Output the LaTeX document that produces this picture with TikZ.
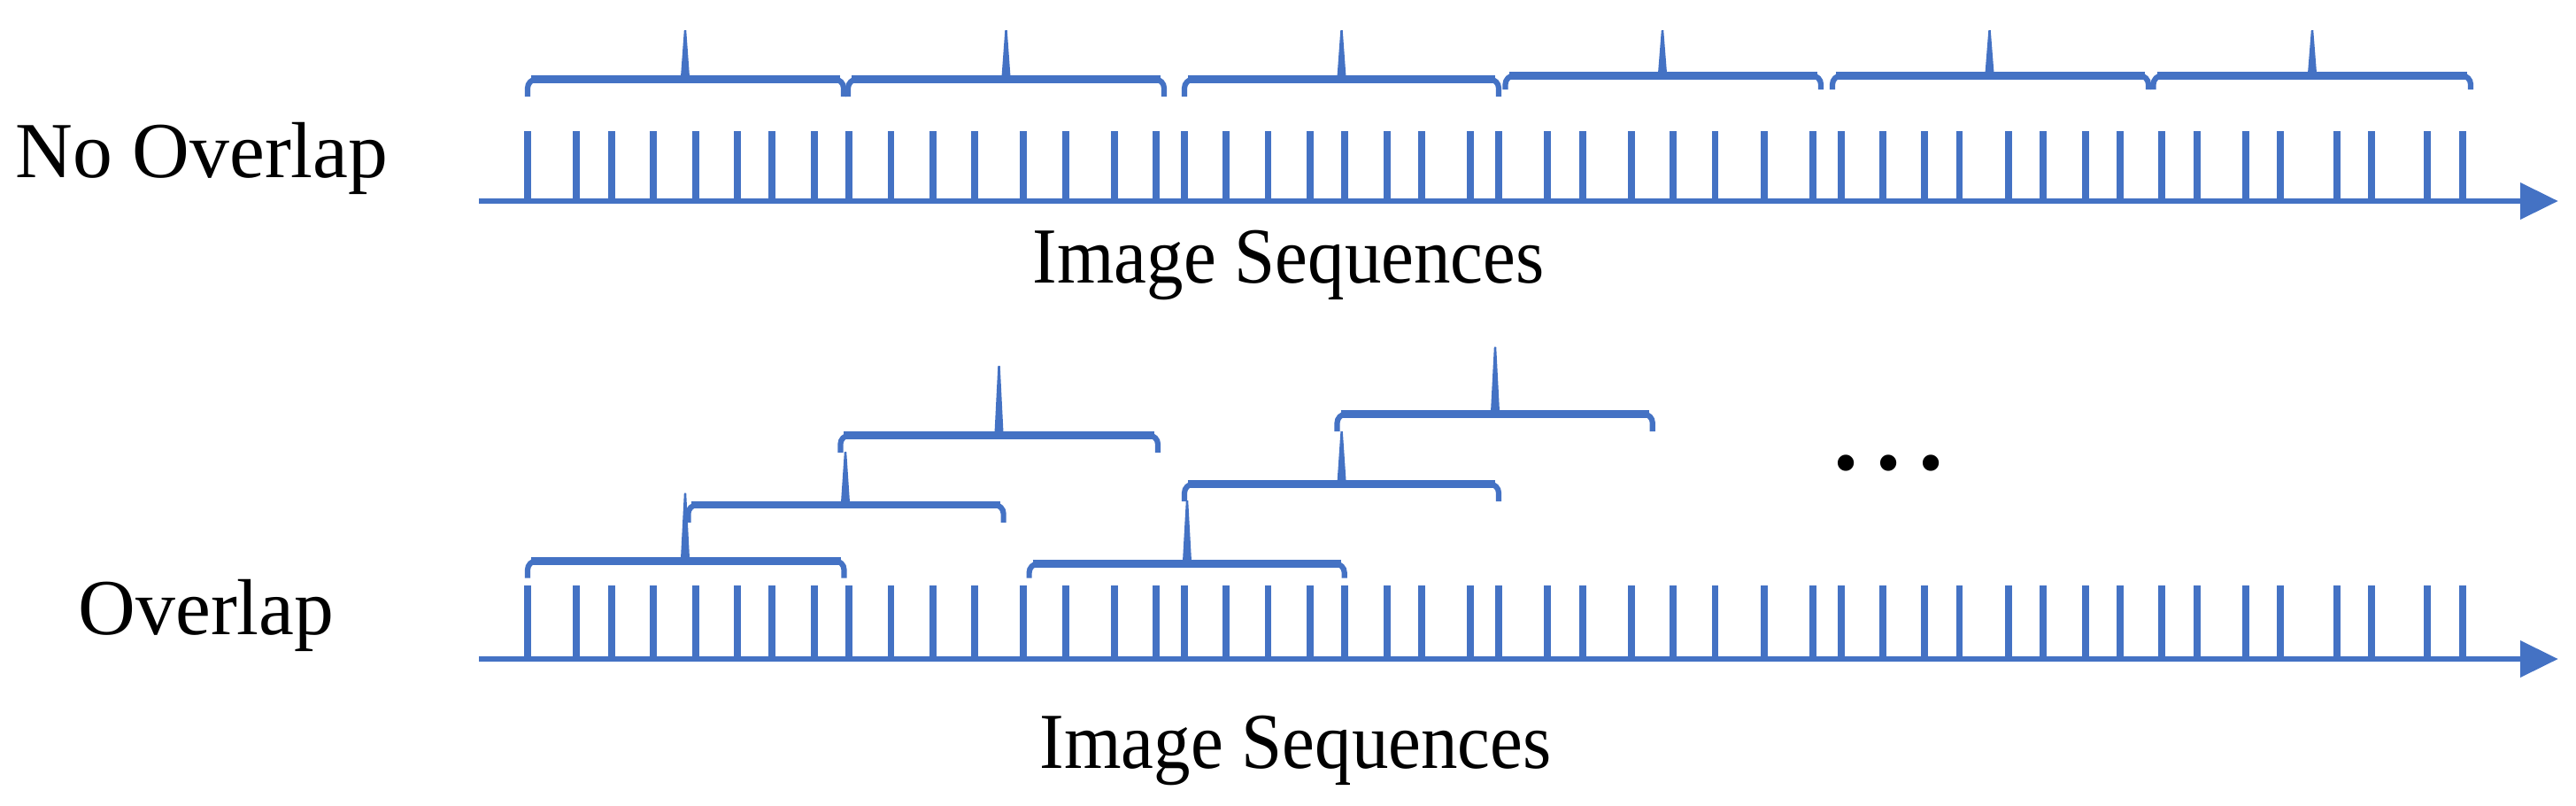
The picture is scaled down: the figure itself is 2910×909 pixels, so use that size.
\documentclass[tikz,border=0pt]{standalone}
\usepackage{graphicx}
\usepackage{fontspec}
\setmainfont{Liberation Serif}
\definecolor{obl}{HTML}{4472C4}
\newcommand{\mybrace}[6]{%
  \draw[braceleg] (#1,#5) -- (#1,#4) -- (#2,#4) -- (#2,#5);
  \draw[bracebar] ({#1+4},#4) -- ({#2-4},#4);
  \fill[obl] ({#3-5},{#4-3}) -- ({#3-1.2},#6) -- ({#3+1.2},#6) -- ({#3+5},{#4-3}) -- cycle;
}
\begin{document}
\begin{tikzpicture}[x=0.01cm,y=-0.01cm,
  axisline/.style={draw=obl,line width=0.058cm},
  tickline/.style={draw=obl,line width=0.072cm},
  braceleg/.style={draw=obl,line width=0.062cm,rounded corners=0.1cm},
  bracebar/.style={draw=obl,line width=0.088cm},
  lbl/.style={inner sep=0,anchor=base west,font=\fontsize{25.5pt}{30pt}\selectfont}]
\useasboundingbox (0,0) rectangle (2910,909);

% axes
\coordinate (a1s) at (541,227);
\coordinate (a1e) at (2850,227);
\coordinate (a2s) at (541,744);
\coordinate (a2e) at (2850,744);
\draw[axisline] (a1s) -- (a1e);
\draw[axisline] (a2s) -- (a2e);
\fill[obl] (2847,206) -- (2889.5,227) -- (2847,248) -- cycle;
\fill[obl] (2847,723) -- (2889.5,744) -- (2847,765) -- cycle;

% ticks
\foreach \t in {596,651,691,738,786,833,872,920,959,1006.5,1054,1101,1156,1204,1259,1306,1338,1385,1432.5,1480,1519,1567,1606,1661,1693,1748,1788,1843,1890,1937.5,1993,2048,2080,2127,2174,2213.5,2269,2308,2356,2395,2442,2482,2537,2576,2640,2679,2742,2782}{
  \draw[tickline] (\t,148) -- (\t,227);
  \draw[tickline] (\t,661) -- (\t,744);
}

% top braces (no overlap)
\mybrace{596}{953}{774}{89.5}{109}{34}
\mybrace{958}{1315}{1136.5}{89.5}{109}{34}
\mybrace{1338}{1693}{1515.5}{89.5}{109}{34}
\mybrace{1700.5}{2057}{1878}{85.3}{101}{34}
\mybrace{2070}{2427}{2247.5}{85.3}{101}{34}
\mybrace{2432.5}{2791}{2612}{85.3}{101}{34}

% bottom braces (overlap)
\mybrace{596}{953.5}{774}{633.3}{652.7}{556.7}
\mybrace{777.4}{1133.6}{955}{570}{590}{510}
\mybrace{949.4}{1308}{1128.5}{491.5}{511}{413}
\mybrace{1162.6}{1518.7}{1341}{636.5}{652.7}{565}
\mybrace{1338}{1693}{1515.6}{546.5}{566}{487}
\mybrace{1510.5}{1866.8}{1689}{467.5}{487}{391.7}

% labels
\node[lbl] (nolap) at (17,200) {No Overlap};
\node[lbl] (olap) at (88,716) {Overlap};
\node[lbl] (seq1) at (1166,319) {\scalebox{0.925}[1]{Image Sequences}};
\node[lbl] (seq2) at (1174,867) {\scalebox{0.925}[1]{Image Sequences}};
\node[lbl,font=\fontsize{32pt}{36pt}\selectfont\bfseries] (dots) at (2071,530) {.\hspace{0.2cm}.\hspace{0.2cm}.};
\end{tikzpicture}
\end{document}
